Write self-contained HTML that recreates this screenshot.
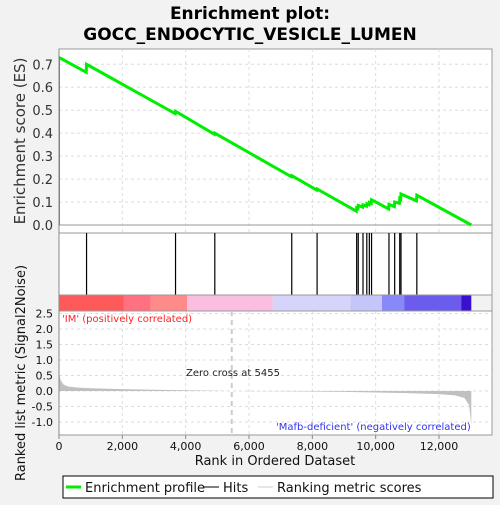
<!DOCTYPE html>
<html><head><meta charset="utf-8"><style>
body{margin:0;background:#f2f2f2;font-family:"Liberation Sans","DejaVu Sans",sans-serif}
svg text{font-family:"DejaVu Sans","Liberation Sans",sans-serif}
</style></head><body>
<svg id="c" width="500" height="500" xmlns="http://www.w3.org/2000/svg">
<rect width="500" height="500" fill="#f2f2f2"/>
<text x="250" y="19" text-anchor="middle" font-size="17" font-weight="bold">Enrichment plot:</text>
<text x="250" y="40" text-anchor="middle" font-size="17" font-weight="bold">GOCC_ENDOCYTIC_VESICLE_LUMEN</text>
<g id="g"></g>
</svg>
<script>
const xTicks=[0,2000,4000,6000,8000,10000,12000];
const esTicks=[0,0.1,0.2,0.3,0.4,0.5,0.6,0.7];
const rankTicks=[2.5,2.0,1.5,1.0,0.5,0.0,-0.5,-1.0];
const hits=[870,3680,4920,7350,8150,9400,9450,9600,9720,9800,9870,10420,10600,10760,10800,11300];
const esRank=[0,860,870,3670,3680,4910,4920,7340,7350,8140,8150,9390,9400,9440,9450,9590,9600,9710,9720,9790,9800,9860,9870,10410,10420,10590,10600,10750,10760,10790,10800,11290,11300,13020];
const esVal=[0.73,0.665,0.70,0.485,0.495,0.395,0.40,0.21,0.215,0.152,0.157,0.06,0.075,0.072,0.085,0.078,0.088,0.082,0.092,0.088,0.098,0.094,0.11,0.07,0.09,0.08,0.10,0.095,0.115,0.112,0.135,0.105,0.13,0];
const metricRank=[0,50,150,300,600,1000,2000,3000,4000,5455,7000,9000,10000,11000,12000,12500,12800,12950,13020];
const metricVal=[0.6,0.35,0.2,0.14,0.11,0.09,0.06,0.04,0.025,0,-0.01,-0.03,-0.05,-0.07,-0.1,-0.14,-0.22,-0.45,-1.1];
const barStops=[0,2050,2900,4050,6750,9200,10200,10900,12700,13020];
const barColors=["#ff5a5a","#ff7080","#ff8a8a","#fbbde0","#d5d5fb","#c5c5fa","#8888f8","#6c5cee","#3a10d0"];
const NS="http://www.w3.org/2000/svg",g=document.getElementById('g');
const X0=59,XR=492,XS=0.031667;
const x=v=>X0+v*XS;
const yES=v=>225-v*229.6;
const yM=v=>391-v*31;
function el(t,a,p){const e=document.createElementNS(NS,t);for(const k in a)e.setAttribute(k,a[k]);(p||g).appendChild(e);return e;}
function tx(s,a){const e=el('text',a);e.textContent=s;return e;}
// panels
const p1=el('rect',{x:X0,y:49,width:XR-X0,height:184,fill:'#fff',stroke:'#999'});

const p2=el('rect',{x:X0,y:233,width:XR-X0,height:62,fill:'#fff',stroke:'#999'});

const p3=el('rect',{x:X0,y:311,width:XR-X0,height:124,fill:'#fff',stroke:'#999'});

// grids
xTicks.slice(1).forEach(v=>{
 el('line',{x1:x(v),x2:x(v),y1:49,y2:233,stroke:'#ddd','stroke-dasharray':'3,3'});
 el('line',{x1:x(v),x2:x(v),y1:311,y2:435,stroke:'#ddd','stroke-dasharray':'3,3'});
});
esTicks.forEach(v=>{
 el('line',{x1:X0,x2:XR,y1:yES(v),y2:yES(v),stroke:v===0?'#999':'#ddd','stroke-dasharray':v===0?'':'3,3'});
 const t=tx(v.toFixed(1),{x:53,y:yES(v)+5,'text-anchor':'end','font-size':13,fill:'#333'});
 
});
rankTicks.forEach(v=>{
 el('line',{x1:X0,x2:XR,y1:yM(v),y2:yM(v),stroke:'#ddd','stroke-dasharray':'3,3'});
 const t=tx(v.toFixed(1),{x:53,y:yM(v)+4,'text-anchor':'end','font-size':11,fill:'#111'});
 
});
// ES line
const esp=el('polyline',{points:esRank.map((r,i)=>x(r)+','+yES(esVal[i])).join(' '),fill:'none',stroke:'#00ee00','stroke-width':3});

el('line',{x1:X0+0.5,x2:X0+0.5,y1:yES(esVal[0]),y2:225,stroke:'#00cc00','stroke-width':1});
// hits
hits.forEach(h=>{const l=el('line',{x1:x(h),x2:x(h),y1:233,y2:295,stroke:'#000','stroke-width':1.2});
 });
// color bar
barColors.forEach((c,i)=>{const r=el('rect',{x:x(barStops[i]),y:295,width:x(barStops[i+1])-x(barStops[i]),height:16,fill:c});
 });
el('rect',{x:X0,y:295,width:XR-X0,height:16,fill:'none',stroke:'#999'});
// metric area
let pts=x(0)+','+yM(0)+' '+metricRank.map((r,i)=>x(r)+','+yM(metricVal[i])).join(' ')+' '+x(metricRank[metricRank.length-1])+','+yM(0);
const ar=el('polygon',{points:pts,fill:'#c0c0c0'});

el('line',{x1:x(5455),x2:x(5455),y1:311,y2:435,stroke:'#ccc','stroke-width':2,'stroke-dasharray':'5,4'});
let t=tx('Zero cross at 5455',{x:186,y:376,'font-size':10,fill:'#222'});
t=tx("'IM' (positively correlated)",{x:62,y:322,'font-size':10,fill:'#ff2020'});
t=tx("'Mafb-deficient' (negatively correlated)",{x:276,y:430,'font-size':10,fill:'#3333ee'});
el('line',{x1:X0,x2:X0,y1:49,y2:435,stroke:'#888'});
xTicks.forEach(v=>{el('line',{x1:x(v),x2:x(v),y1:435,y2:439,stroke:'#888'});
 const s=tx(v.toLocaleString('en-US'),{x:x(v),y:450,'text-anchor':'middle','font-size':11,fill:'#111'});
 });
t=tx('Rank in Ordered Dataset',{x:275,y:465,'text-anchor':'middle','font-size':13,fill:'#111'});
t=tx('Enrichment score (ES)',{x:0,y:0,'text-anchor':'middle','font-size':15,fill:'#333',transform:'translate(25,141) rotate(-90)'});
t=tx('Ranked list metric (Signal2Noise)',{x:0,y:0,'text-anchor':'middle','font-size':13,fill:'#111',transform:'translate(25,373) rotate(-90)'});
// legend
const lg=el('rect',{x:63,y:476,width:430,height:22,fill:'#fff',stroke:'#000'});
el('line',{x1:66,x2:81,y1:487,y2:487,stroke:'#00ee00','stroke-width':3});
t=tx('Enrichment profile',{x:85,y:492,'font-size':13,fill:'#111'});
el('line',{x1:204,x2:219,y1:487,y2:487,stroke:'#000'});
t=tx('Hits',{x:223,y:492,'font-size':13,fill:'#111'});
el('line',{x1:258,x2:273,y1:487,y2:487,stroke:'#ccc'});
t=tx('Ranking metric scores',{x:277,y:492,'font-size':13,fill:'#111'});
</script>
</body></html>
